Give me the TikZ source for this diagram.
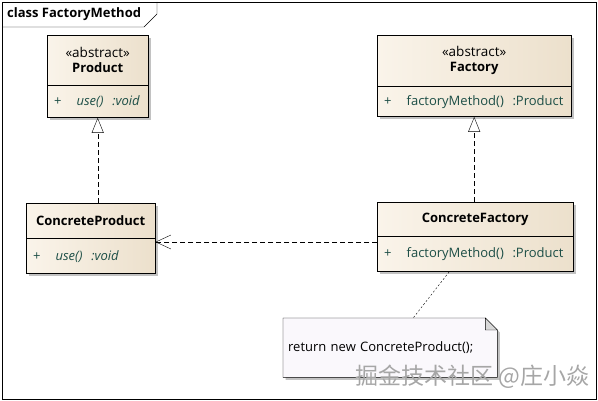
\documentclass[tikz,border=0pt]{standalone}
\usepackage{fontspec}
\setmainfont{Open Sans}
\newfontfamily\cjkfont{Noto Sans CJK SC}
\usetikzlibrary{positioning, shadows, arrows.meta, calc, backgrounds}

\definecolor{boxlight}{RGB}{250,244,234}
\definecolor{boxdark}{RGB}{236,224,204}
\definecolor{membertext}{RGB}{28,78,70}
\definecolor{notefill}{RGB}{250,248,252}
\definecolor{foldfill}{RGB}{216,216,216}

\begin{document}
\begin{tikzpicture}[
    x=1pt, y=-1pt,
    font=\fontsize{13}{15}\selectfont,
    classbox/.style={rectangle, draw=black, thin, left color=boxlight, right color=boxdark, inner sep=0pt, drop shadow={shadow xshift=2.5pt, shadow yshift=-2.5pt, fill=black!40, opacity=0.6}},
    classhead/.style={classbox, align=center, anchor=north west},
    classname/.style={font=\fontsize{13}{15}\selectfont\bfseries},
    classbody/.style={classbox, align=left, inner xsep=7pt, text=membertext},
    realize/.style={dashed, dash pattern=on 5pt off 3pt, thin, -{Triangle[open, length=15pt, width=12pt, fill=white]}},
    depend/.style={dashed, dash pattern=on 5pt off 3pt, thin, -{Straight Barb[length=15pt, width=14pt]}},
    notelink/.style={thin, dash pattern=on 2pt off 2pt}
]
\useasboundingbox (0,0) rectangle (598,401);

% Frame and title tab
\draw[thin] (2,2) rectangle (596,399);
\node[anchor=west, font=\fontsize{13}{15}\selectfont\bfseries, inner sep=0pt] (title) at (7,14.5) {class FactoryMethod};
\draw[thin] (2,27) -- (144,27) -- (157,14) -- (157,2);

% Abstract classes
\node[classhead, minimum width=101pt, minimum height=50pt] (prodhead) at (47,35)
    {\fontsize{13.5}{20}\selectfont«abstract»\\{\fontsize{13}{15}\selectfont\bfseries Product}};
\node[classbody, below=0pt of prodhead, minimum width=101pt, minimum height=32pt, text width=87pt]
    (prodbody) {\mbox{+\hspace{15pt}\textit{use()\ \ :void}}};

\node[classhead, minimum width=194pt, minimum height=51pt] (facthead) at (377,35)
    {\fontsize{13.5}{20}\selectfont«abstract»\\{\fontsize{13}{15}\selectfont\bfseries Factory}};
\node[classbody, below=0pt of facthead, minimum width=194pt, minimum height=30pt, text width=180pt]
    (factbody) {\mbox{+\hspace{15pt}factoryMethod()\ \ :Product}};

% Concrete classes
\node[classhead, classname, minimum width=129pt, minimum height=35pt] (cprodhead) at (26,203) {ConcreteProduct};
\node[classbody, below=0pt of cprodhead, minimum width=129pt, minimum height=35pt, text width=115pt]
    (cprodbody) {\mbox{+\hspace{15pt}\textit{use()\ \ :void}}};

\node[classhead, classname, minimum width=196pt, minimum height=34pt] (cfacthead) at (377,202) {ConcreteFactory};
\node[classbody, below=0pt of cfacthead, minimum width=196pt, minimum height=35pt, text width=182pt]
    (cfactbody) {\mbox{+\hspace{15pt}factoryMethod()\ \ :Product}};

% Note
\node[anchor=north west, minimum width=214pt, minimum height=59pt, inner xsep=5pt, align=left, text width=204pt] (note) at (283,318)
    {return new ConcreteProduct();};
\begin{scope}[on background layer]
\draw[thin, fill=notefill, drop shadow={shadow xshift=2.5pt, shadow yshift=-2.5pt, fill=black!40, opacity=0.6}]
    (note.north west) -- ([xshift=-12pt]note.north east) -- ([yshift=-12pt]note.north east)
    -- (note.south east) -- (note.south west) -- cycle;
\draw[thin, fill=foldfill] ([xshift=-12pt]note.north east) -- ([xshift=-12pt, yshift=-12pt]note.north east)
    -- ([yshift=-12pt]note.north east) -- cycle;
\end{scope}

% Connectors
\draw[realize] (cprodhead.north -| prodbody.south) -- (prodbody.south);
\draw[realize] (cfacthead.north -| factbody.south) -- (factbody.south);
\draw[depend] (cfactbody.west |- 0,242) -- (cprodbody.east |- 0,242);
\draw[notelink] ([xshift=-26pt]cfactbody.south) -- ([xshift=23pt]note.north);

% Watermark
\node[anchor=west, inner sep=0pt, font=\cjkfont\fontsize{23}{26}\selectfont, text=black!35] (mark) at (355,377) {掘金技术社区 @庄小焱};
\end{tikzpicture}
\end{document}
